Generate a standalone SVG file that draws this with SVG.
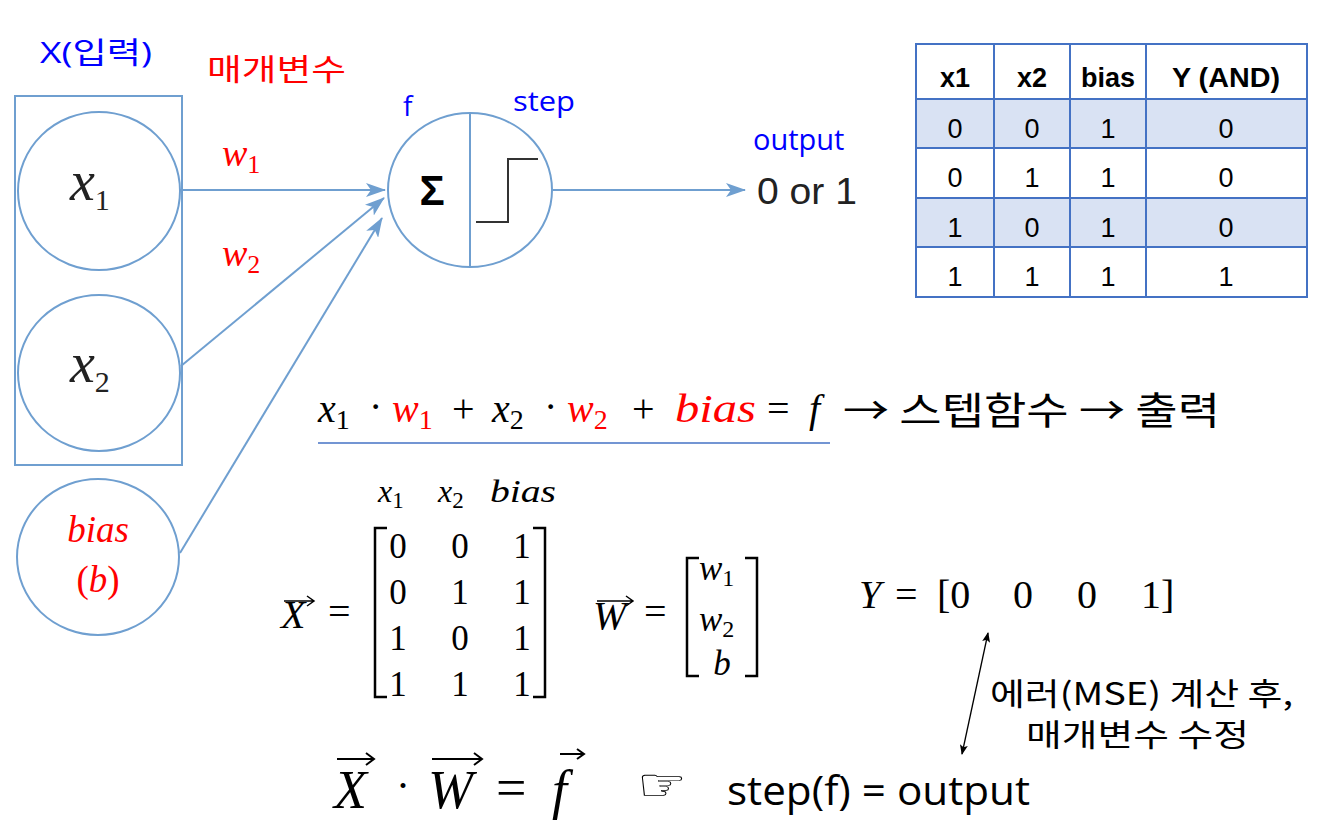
<svg xmlns="http://www.w3.org/2000/svg" width="1323" height="837" viewBox="0 0 1323 837">
<style>
.nd{fill:#fff;stroke:#6f9fd0;stroke-width:2}
.cn{stroke:#6f9fd0;stroke-width:2;fill:none}
.blue{fill:#0000ff;font-family:"Open Sans","Noto Sans",sans-serif}
.kr{font-family:"Noto Sans CJK KR",sans-serif}
.red{fill:#ff0000}
.mi{font-family:"Liberation Serif","DejaVu Serif",serif;font-style:italic}
.mr{font-family:"Liberation Serif","DejaVu Serif",serif}
.tb{font-family:"Liberation Sans",Arial,sans-serif;font-size:27px;text-anchor:middle;fill:#000}
.th{font-weight:bold}
.grid{stroke:#4472c4;stroke-width:2;fill:none}
</style>
<defs>
<marker id="ah" markerUnits="userSpaceOnUse" markerWidth="20" markerHeight="14" viewBox="0 0 20 14" refX="19" refY="7" orient="auto">
<path d="M0,0 L20,7 L0,14 L5,7 z" fill="#6f9fd0"/>
</marker>
<marker id="bh" markerUnits="userSpaceOnUse" markerWidth="10" markerHeight="10" viewBox="0 0 10 10" refX="9" refY="5" orient="auto">
<path d="M0,1 L10,5 L0,9 L2,5 z" fill="#000"/>
</marker>
<marker id="bt" markerUnits="userSpaceOnUse" markerWidth="10" markerHeight="10" viewBox="0 0 10 10" refX="1" refY="5" orient="auto">
<path d="M10,1 L0,5 L10,9 L8,5 z" fill="#000"/>
</marker>
</defs>
<rect width="1323" height="837" fill="#fff"/>

<!-- labels -->
<text x="40" y="63" class="blue" font-size="30" textLength="112" lengthAdjust="spacingAndGlyphs">X(<tspan class="kr">입력</tspan>)</text>
<text x="207" y="80" class="kr red" font-size="30" textLength="139" lengthAdjust="spacingAndGlyphs">매개변수</text>
<text x="222" y="166" class="mi red" font-size="38">w<tspan font-style="normal" font-size="26" dy="7">1</tspan></text>
<text x="222" y="266" class="mi red" font-size="38">w<tspan font-style="normal" font-size="26" dy="7">2</tspan></text>

<g id="input-box">
<rect x="15" y="96" width="167" height="369" fill="none" stroke="#6f9fd0" stroke-width="2"/>
</g>

<!-- connectors -->
<g id="connectors">
<line class="cn" x1="180" y1="190" x2="385" y2="190" marker-end="url(#ah)"/>
<line class="cn" x1="181" y1="366" x2="384" y2="198" marker-end="url(#ah)"/>
<line class="cn" x1="180" y1="553" x2="382" y2="218" marker-end="url(#ah)"/>
<line class="cn" x1="553" y1="190" x2="745" y2="190" marker-end="url(#ah)"/>
<line x1="988" y1="633" x2="962" y2="754" stroke="#000" stroke-width="1.3" marker-end="url(#bh)" marker-start="url(#bt)"/>
</g>

<g id="node-x1">
<ellipse class="nd" cx="99" cy="191" rx="81" ry="79"/>
<text x="70" y="200" class="mi" font-size="56" fill="#222">x<tspan font-style="normal" font-size="30" dy="10">1</tspan></text>
</g>
<g id="node-x2">
<ellipse class="nd" cx="99" cy="373" rx="81" ry="78"/>
<text x="70" y="382" class="mi" font-size="56" fill="#222">x<tspan font-style="normal" font-size="30" dy="10">2</tspan></text>
</g>
<g id="node-bias">
<ellipse class="nd" cx="98" cy="557" rx="81" ry="78"/>
<text x="98" y="542" class="mi red" font-size="37" text-anchor="middle">bias</text>
<text x="98" y="592" class="mi red" font-size="37" text-anchor="middle"><tspan font-style="normal">(</tspan>b<tspan font-style="normal">)</tspan></text>
</g>

<g id="neuron">
<ellipse class="nd" cx="470" cy="190" rx="82" ry="77"/>
<line x1="470" y1="113" x2="470" y2="267" stroke="#6f9fd0" stroke-width="2"/>
<text x="432" y="205" font-family="'Liberation Sans',sans-serif" font-weight="bold" font-size="42" text-anchor="middle" fill="#000">Σ</text>
<polyline points="476,222 508,222 508,159 538,159" fill="none" stroke="#333" stroke-width="2"/>
<text x="403" y="116" class="blue" font-size="28">f</text>
<text x="513" y="111" class="blue" font-size="28" textLength="62" lengthAdjust="spacingAndGlyphs">step</text>
</g>

<g id="output">
<text x="753" y="150" class="blue" font-size="29">output</text>
<text x="757" y="204" font-family="'Liberation Sans',sans-serif" font-size="36" fill="#222" textLength="100" lengthAdjust="spacingAndGlyphs">0 or 1</text>
</g>

<!-- table -->
<g id="truth-table">
<rect x="916" y="99" width="391" height="49" fill="#d9e2f3"/>
<rect x="916" y="198" width="391" height="49" fill="#d9e2f3"/>
<rect class="grid" x="916" y="44" width="391" height="253"/>
<line class="grid" x1="916" y1="99" x2="1307" y2="99" stroke-width="3.5"/>
<line class="grid" x1="916" y1="148" x2="1307" y2="148"/>
<line class="grid" x1="916" y1="198" x2="1307" y2="198"/>
<line class="grid" x1="916" y1="247" x2="1307" y2="247"/>
<line class="grid" x1="994" y1="44" x2="994" y2="297"/>
<line class="grid" x1="1070" y1="44" x2="1070" y2="297"/>
<line class="grid" x1="1146" y1="44" x2="1146" y2="297"/>
<text class="tb th" x="955" y="87">x1</text>
<text class="tb th" x="1032" y="87">x2</text>
<text class="tb th" x="1108" y="87">bias</text>
<text class="tb th" x="1226" y="87" textLength="108" lengthAdjust="spacingAndGlyphs">Y (AND)</text>
<text class="tb" x="955" y="138">0</text><text class="tb" x="1032" y="138">0</text><text class="tb" x="1108" y="138">1</text><text class="tb" x="1226" y="138">0</text>
<text class="tb" x="955" y="187">0</text><text class="tb" x="1032" y="187">1</text><text class="tb" x="1108" y="187">1</text><text class="tb" x="1226" y="187">0</text>
<text class="tb" x="955" y="237">1</text><text class="tb" x="1032" y="237">0</text><text class="tb" x="1108" y="237">1</text><text class="tb" x="1226" y="237">0</text>
<text class="tb" x="955" y="286">1</text><text class="tb" x="1032" y="286">1</text><text class="tb" x="1108" y="286">1</text><text class="tb" x="1226" y="286">1</text>
</g>

<!-- equation line -->
<g id="equation" font-size="40">
<text x="318" y="422" class="mi">x<tspan font-style="normal" font-size="28" dy="7">1</tspan></text>
<text x="369" y="420" class="mr">·</text>
<text x="392" y="422" class="mi red">w<tspan font-style="normal" font-size="28" dy="7">1</tspan></text>
<text x="452" y="422" class="mr">+</text>
<text x="492" y="422" class="mi">x<tspan font-style="normal" font-size="28" dy="7">2</tspan></text>
<text x="544" y="420" class="mr">·</text>
<text x="567" y="422" class="mi red">w<tspan font-style="normal" font-size="28" dy="7">2</tspan></text>
<text x="632" y="422" class="mr">+</text>
<text x="675" y="422" class="mi red" textLength="81" lengthAdjust="spacingAndGlyphs">bias</text>
<text x="767" y="422" class="mr">=</text>
<text x="809" y="422" class="mi">f</text>
<text x="843" y="424" class="kr" font-size="38" textLength="377" lengthAdjust="spacingAndGlyphs">→ 스텝함수 → 출력</text>
<line x1="318" y1="443" x2="830" y2="443" stroke="#4472c4" stroke-width="1.5"/>
</g>

<!-- matrices -->
<g id="matrix-X" font-size="35">
<text x="378" y="502" class="mi" font-size="32">x<tspan font-style="normal" font-size="23" dy="6">1</tspan></text>
<text x="438" y="502" class="mi" font-size="32">x<tspan font-style="normal" font-size="23" dy="6">2</tspan></text>
<text x="490" y="502" class="mi" font-size="32" textLength="66" lengthAdjust="spacingAndGlyphs">bias</text>
<text x="281" y="628" class="mi" font-size="40">X</text>
<path d="M284,601 L314,601 M307,596 L314,601 L307,606" fill="none" stroke="#000" stroke-width="1.5"/>
<text x="328" y="625" class="mr" font-size="40">=</text>
<path d="M387,528 L375,528 L375,697 L387,697" fill="none" stroke="#000" stroke-width="2.5"/>
<path d="M533,528 L545,528 L545,697 L533,697" fill="none" stroke="#000" stroke-width="2.5"/>
<g class="mr" text-anchor="middle">
<text x="398" y="558">0</text><text x="460" y="558">0</text><text x="522" y="558">1</text>
<text x="398" y="604">0</text><text x="460" y="604">1</text><text x="522" y="604">1</text>
<text x="398" y="650">1</text><text x="460" y="650">0</text><text x="522" y="650">1</text>
<text x="398" y="696">1</text><text x="460" y="696">1</text><text x="522" y="696">1</text>
</g>
</g>
<g id="matrix-W" font-size="35">
<text x="593" y="629" class="mi" font-size="40">W</text>
<path d="M597,601 L633,601 M626,596 L633,601 L626,606" fill="none" stroke="#000" stroke-width="1.5"/>
<text x="644" y="625" class="mr" font-size="40">=</text>
<path d="M699,558 L687,558 L687,676 L699,676" fill="none" stroke="#000" stroke-width="2.5"/>
<path d="M745,558 L757,558 L757,676 L745,676" fill="none" stroke="#000" stroke-width="2.5"/>
<text x="699" y="580" class="mi">w<tspan font-style="normal" font-size="24" dy="6">1</tspan></text>
<text x="699" y="631" class="mi">w<tspan font-style="normal" font-size="24" dy="6">2</tspan></text>
<text x="722" y="675" class="mi" text-anchor="middle">b</text>
</g>
<g id="vector-Y" font-size="40">
<text x="859" y="608" class="mi">Y</text>
<text x="895" y="608" class="mr">=</text>
<text x="937" y="608" class="mr">[0</text>
<text x="1013" y="608" class="mr">0</text>
<text x="1077" y="608" class="mr">0</text>
<text x="1141" y="608" class="mr">1]</text>
</g>
<g id="note" class="kr" font-size="31" fill="#000">
<text x="990" y="705" textLength="303" lengthAdjust="spacingAndGlyphs">에러(MSE) 계산 후,</text>
<text x="1026" y="746" textLength="223" lengthAdjust="spacingAndGlyphs">매개변수 수정</text>
</g>

<!-- bottom line -->
<g id="bottom">
<text x="334" y="808" class="mi" font-size="54">X</text>
<path d="M337,759 L374,759 M366,753 L374,759 L366,765" fill="none" stroke="#000" stroke-width="2"/>
<text x="396" y="800" class="mr" font-size="42">·</text>
<text x="428" y="808" class="mi" font-size="54">W</text>
<path d="M432,759 L482,759 M474,753 L482,759 L474,765" fill="none" stroke="#000" stroke-width="2"/>
<text x="496" y="806" class="mr" font-size="54">=</text>
<text x="552" y="808" class="mi" font-size="54">f</text>
<path d="M560,754 L584,754 M577,749 L584,754 L577,759" fill="none" stroke="#000" stroke-width="2"/>
<text x="637" y="800" font-family="'DejaVu Sans',sans-serif" font-size="44" fill="#000" textLength="50" lengthAdjust="spacingAndGlyphs">☞</text>
<text x="727" y="805" font-family="'Open Sans','Noto Sans',sans-serif" font-size="40" fill="#000" textLength="303" lengthAdjust="spacingAndGlyphs">step(f) = output</text>
</g>
</svg>
